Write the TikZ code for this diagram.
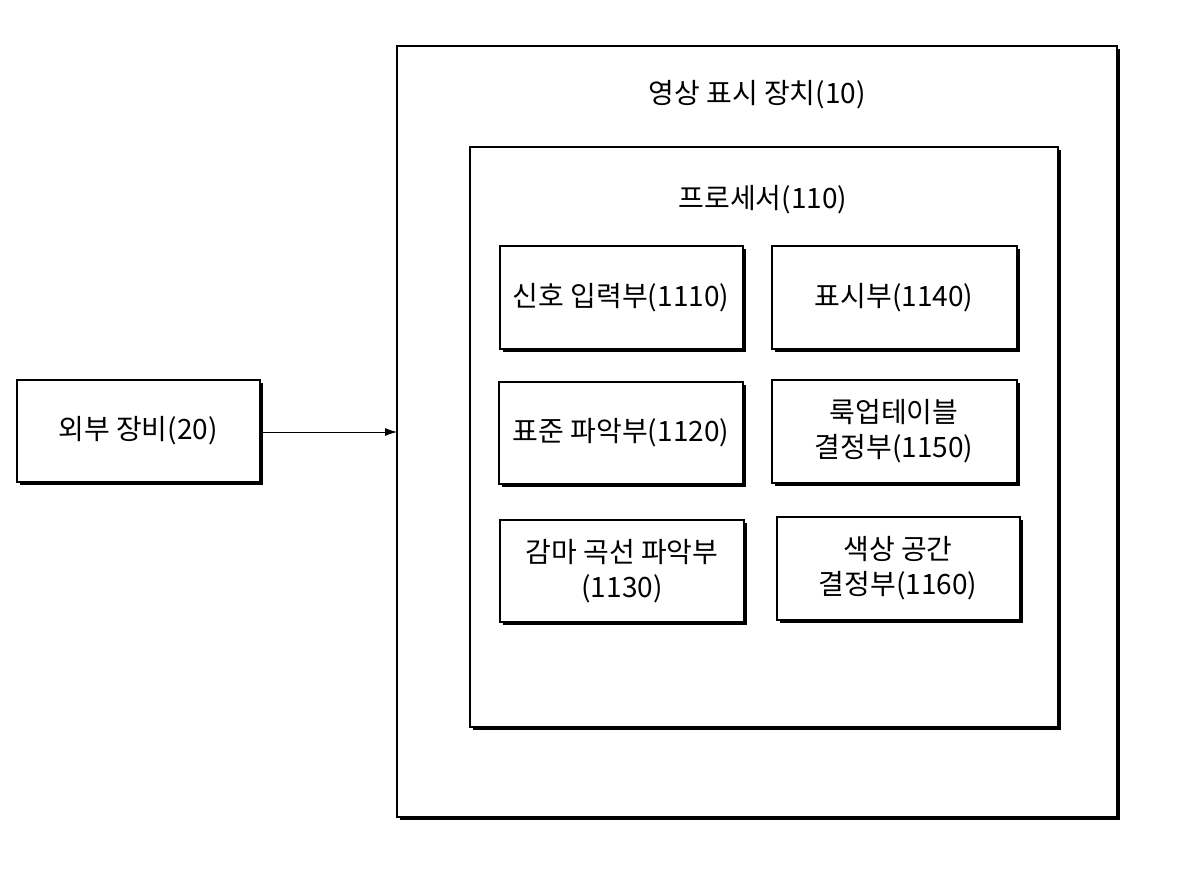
\documentclass[tikz,border=0pt]{standalone}
\usepackage{fontspec}
\setmainfont{Noto Sans CJK KR}
\usetikzlibrary{arrows.meta}
\begin{document}
\begin{tikzpicture}[x=0.75pt,y=-0.75pt,
  box/.style={draw,line width=1pt,fill=white},
  lbl/.style={font=\fontsize{21}{26}\selectfont,align=center,inner sep=0pt}]
\useasboundingbox (0,0) rectangle (1200,884);
\fill[black] (400,49) rectangle (1120,820);
\draw[box] (397,46) rectangle (1117,817);
\coordinate (outerL) at (397,432);
\node[lbl] (t1) at (757,95) {영상 표시 장치(10)};
\fill[black] (473,150) rectangle (1061,730);
\draw[box] (470,147) rectangle (1058,727);
\node[lbl] (t2) at (763,200) {프로세서(110)};
\fill[black] (503,249) rectangle (746,352);
\draw[box] (500,246) rectangle (743,349);
\node[lbl] (a) at (621,298) {신호 입력부(1110)};
\fill[black] (775,249) rectangle (1020,352);
\draw[box] (772,246) rectangle (1017,349);
\node[lbl] (b) at (894,298) {표시부(1140)};
\fill[black] (502,385) rectangle (746,487);
\draw[box] (499,382) rectangle (743,484);
\node[lbl] (c) at (621,433) {표준 파악부(1120)};
\fill[black] (775,383) rectangle (1020,486);
\draw[box] (772,380) rectangle (1017,483);
\node[lbl] (d) at (894,431) {룩업테이블\\결정부(1150)};
\fill[black] (503,523) rectangle (747,625);
\draw[box] (500,520) rectangle (744,622);
\node[lbl] (e) at (622,571) {감마 곡선 파악부\\(1130)};
\fill[black] (780,520) rectangle (1023,623);
\draw[box] (777,517) rectangle (1020,620);
\node[lbl] (f) at (898,568) {색상 공간\\결정부(1160)};
\fill[black] (20,383) rectangle (263,485);
\draw[box] (17,380) rectangle (260,482);
\node[lbl] (g) at (138,431) {외부 장비(20)};
\coordinate (gR) at (260,432);
\draw[-{Latex[length=9pt,width=6pt]},line width=0.6pt] (gR) -- (outerL);
\end{tikzpicture}
\end{document}
